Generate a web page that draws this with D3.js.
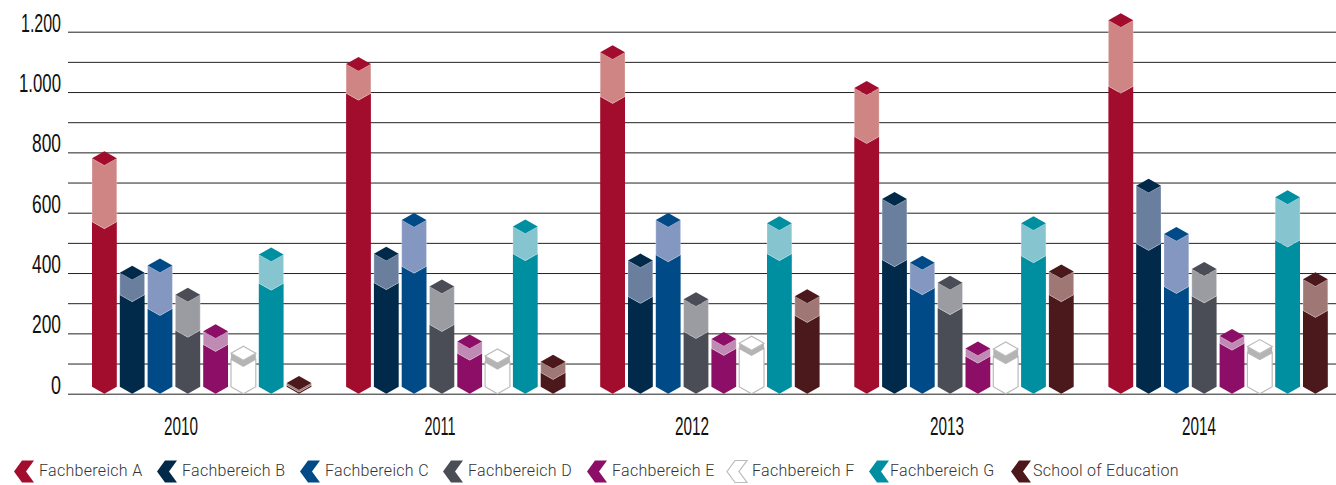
<!DOCTYPE html>
<html><head><meta charset="utf-8">
<script src="https://cdn.jsdelivr.net/npm/d3@7"></script>
<style>html,body{margin:0;background:#fff}svg{display:block}</style></head>
<body><svg id="c" width="1336" height="485"></svg>
<script>
const years = ["2010","2011","2012","2013","2014"];
const series = ["Fachbereich A","Fachbereich B","Fachbereich C","Fachbereich D","Fachbereich E","Fachbereich F","Fachbereich G","School of Education"];
const yTicks = [0,100,200,300,400,500,600,700,800,900,1000,1100,1200];
// full bar height per series, one entry per year
const totalA = [757,1070,1109,990,1215];
const totalB = [378,441,418,622,666];
const totalC = [402,553,553,411,506];
const totalD = [305,332,290,345,390];
const totalE = [184,150,158,127,168];
const totalF = [111,102,144,125,133];
const totalG = [438,531,542,542,628];
const totalS = [12,83,300,382,356];
// lower (dark) part per series
const lowerA = [547,973,962,829,996];
const lowerB = [305,345,299,421,475];
const lowerC = [259,399,437,328,332];
const lowerD = [187,206,183,262,301];
const lowerE = [140,111,127,101,144];
const lowerF = [91,82,127,100,113];
const lowerG = [343,441,441,434,486];
const lowerS = [5,47,236,305,253];
const totals = [totalA,totalB,totalC,totalD,totalE,totalF,totalG,totalS];
const lowers = [lowerA,lowerB,lowerC,lowerD,lowerE,lowerF,lowerG,lowerS];
const darkColors  = ["#A30D2D","#012A4A","#004B87","#4A4D55","#8C0E66","#FFFFFF","#008FA1","#4B181C"];
const lightColors = ["#CE8583","#6A7F9E","#8497C1","#9B9CA1","#BF8AB3","#B4B4B4","#86C4CF","#9F7876"];
const legendX = [14,157,300,443,587,727,869,1011];

const svg = d3.select("#c");
const y = d3.scaleLinear().domain([0,1200]).range([393.7,31.7]);
const x0 = d3.scaleBand().domain(years).range([92,92+254.1*5]);
const x1 = d3.scaleBand().domain(series).range([0,27.8*8]);
const W = 24.8, D = 7;
const condensed = "'Liberation Sans'";
const fmt = d3.formatLocale({decimal:",",thousands:".",grouping:[3],currency:["","€"]}).format(",");

const axis = d3.axisLeft(y).tickValues(yTicks).tickSize(-(1336-68)).tickPadding(7)
  .tickFormat(v => v % 200 === 0 ? fmt(v) : "");
const gAxis = svg.append("g").attr("transform","translate(68,0)").call(axis);
gAxis.select(".domain").remove();
gAxis.selectAll("line").attr("stroke","#222").attr("stroke-width",1);
gAxis.selectAll("text").attr("dy",0)
  .attr("y",-0.5).attr("font-family",condensed).attr("font-size",25).attr("fill","#111")
  .each(function(){
    const t=this.textContent, n=t.length;
    if(n){
      const w = t==="1.200"?40:t==="1.000"?42:t==="0"?10:29;
      d3.select(this).attr("textLength",w).attr("lengthAdjust","spacingAndGlyphs");
    }
  });

const poly = pts => pts.map(p=>p.join(",")).join(" ");
years.forEach((yr,i)=>{
  series.forEach((s,j)=>{
    const xl = x0(yr)+x1(s), xr = xl+W, xc = xl+W/2;
    const b = y(0), t = y(totals[j][i]), m = y(lowers[j][i]);
    const d = D;
    const hollow = j===5, g = svg.append("g");
    g.append("polygon").attr("points",poly([[xl,b-d],[xc,b],[xr,b-d],[xr,m-d],[xc,m],[xl,m-d]]))
      .attr("fill",darkColors[j]).attr("stroke",hollow?"#BBB":"none").attr("stroke-width",hollow?1.2:0);
    g.append("polygon").attr("points",poly([[xl,t-d],[xc,t],[xr,t-d],[xr,m-d],[xc,m],[xl,m-d]]))
      .attr("fill",lightColors[j]).attr("stroke","#fff").attr("stroke-opacity",hollow?0:0.35).attr("stroke-width",0.8);
    g.append("polygon").attr("points",poly([[xl,t-d],[xc,t],[xr,t-d],[xc,t-2*d]]))
      .attr("fill",darkColors[j]).attr("stroke",hollow?"#BBB":"none").attr("stroke-width",hollow?1.2:0);
  });
});

const yearLabelX = [181,440,692,947,1199];
svg.selectAll("text.year").data(years).join("text").attr("class","year")
  .attr("x",(d,i)=>yearLabelX[i]).attr("y",435).attr("text-anchor","middle")
  .attr("font-family",condensed).attr("font-size",25).attr("fill","#111")
  .attr("textLength",d=>d==="2011"?31:34).attr("lengthAdjust","spacingAndGlyphs").text(d=>d);

series.forEach((s,j)=>{
  const lx = legendX[j], g = svg.append("g").attr("transform",`translate(${lx},0)`);
  const hollow=j===5;
  g.append("polygon").attr("points",poly([[0,471.5],[8,460.5],[20,460.5],[12,471.5],[20,482.5],[8,482.5]]))
    .attr("fill",darkColors[j]).attr("stroke",hollow?"#BBB":"none").attr("stroke-width",hollow?1.2:0);
  g.append("text").attr("x",j===6?21:j===7?22:25).attr("y",476).attr("font-family","Roboto").attr("font-weight",300)
    .attr("font-size",16).attr("letter-spacing",0.3).attr("fill","#333").text(s);
});
</script></body></html>
